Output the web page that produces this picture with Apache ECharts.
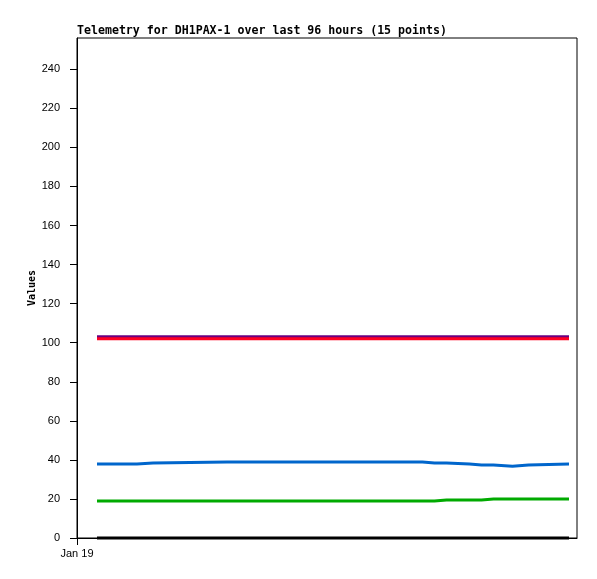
<!DOCTYPE html>
<html><head><meta charset="utf-8">
<script src="https://cdn.jsdelivr.net/npm/echarts@6/dist/echarts.min.js"></script>
<style>html,body{margin:0;padding:0;background:#fff}#c{width:597px;height:579px}</style>
</head><body><div id="c"></div>
<script>
const titleText = 'Telemetry for DH1PAX-1 over last 96 hours (15 points)';
const hours = [4, 12, 15.2, 30, 45, 60, 69.1, 71.5, 73.9, 78.5, 80.9, 83.3, 87.1, 90.3, 98.4];
const purpleVals = [103,103,103,103,103,103,103,103,103,103,103,103,103,103,103];
const redVals = [102,102,102,102,102,102,102,102,102,102,102,102,102,102,102];
const blueVals = [37.9,38.4,38.9,38.9,38.9,38.9,38.4,38.4,37.9,37.4,37.4,36.8,37.4,37.9,37.9];
const greenVals = [18.9,18.9,18.9,18.9,18.9,18.9,18.9,19.4,19.4,19.4,20.0,20.0,20.0,20.0,20.0];
const blackVals = [0,0,0,0,0,0,0,0,0,0,0,0,0,0,0];
const yTicks = [0,20,40,60,80,100,120,140,160,180,200,220,240];
const xTickLabel = 'Jan 19';

// step shape: each value holds until the next sample time
const stepPairs = v => {
  const out = [];
  hours.forEach((h,i)=>{
    if (i>0) out.push([h, v[i-1]]);
    out.push([h, v[i]]);
  });
  return out;
};
const mk = (name, vals, color) => ({
  name, type:'line', data: stepPairs(vals), symbol:'none',
  lineStyle:{color, width:3, join:'miter', cap:'butt'}, animation:false, clip:false
});
const chart = echarts.init(document.getElementById('c'));
chart.setOption({
  animation:false,
  title:{text:titleText, left:77, top:25, padding:0,
    textStyle:{fontFamily:'DejaVu Sans Mono', fontWeight:'bold', fontSize:11.6, color:'#000'}},
  grid:{left:77, right:20, top:38, bottom:41, show:true, borderColor:'#000', borderWidth:1, backgroundColor:'#fff'},
  xAxis:{type:'value', min:0, max:100,
    axisLine:{show:true, lineStyle:{color:'#000'}},
    splitLine:{show:false},
    axisTick:{show:true, length:7, customValues:[0], lineStyle:{color:'#000'}},
    axisLabel:{customValues:[0], formatter:()=>xTickLabel, margin:10,
      fontFamily:'Liberation Sans', fontSize:11, color:'#000'}
  },
  yAxis:{type:'value', min:0, max:256,
    name:'Values', nameLocation:'middle', nameGap:40, nameRotate:90, nameMoveOverlap:false,
    nameTextStyle:{fontFamily:'DejaVu Sans Mono', fontWeight:'bold', fontSize:10, color:'#000'},
    axisLine:{show:true, lineStyle:{color:'#000'}},
    splitLine:{show:false},
    axisTick:{show:true, length:7, customValues:yTicks, lineStyle:{color:'#000'}},
    axisLabel:{customValues:yTicks, margin:17, fontFamily:'Liberation Sans', fontSize:11, color:'#000'}
  },
  series:[
    mk('purple', purpleVals, '#6a0080'),
    mk('red', redVals, '#ff0022'),
    mk('blue', blueVals, '#0066cc'),
    mk('green', greenVals, '#00aa00'),
    mk('black', blackVals, '#000000')
  ]
});
</script></body></html>
